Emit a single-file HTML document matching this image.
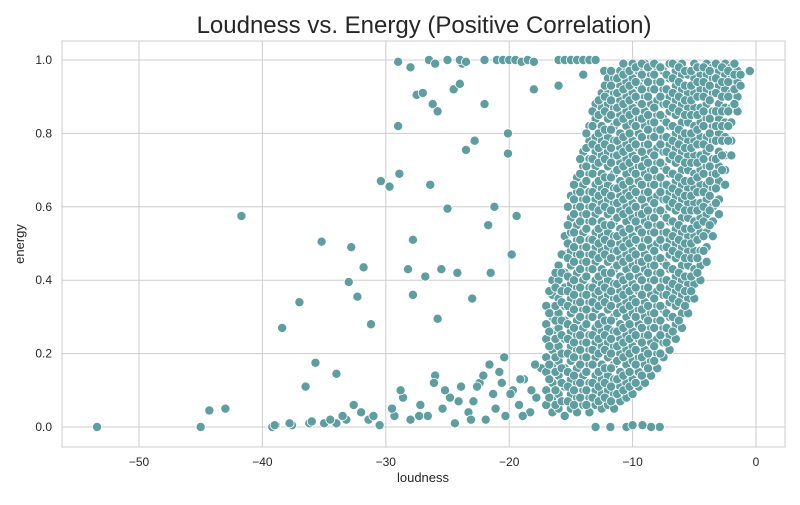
<!DOCTYPE html>
<html><head><meta charset="utf-8"><style>
body{margin:0;background:#fff;font-family:"Liberation Sans",sans-serif}
svg text{font-family:"Liberation Sans",sans-serif;fill:#262626}
</style></head><body>
<svg id="chart" width="800" height="500" viewBox="0 0 800 500">
<text x="424" y="33" font-size="24" text-anchor="middle">Loudness vs. Energy (Positive Correlation)</text>
<g id="grid"></g><g id="pts"></g>
<rect x="62" y="41" width="723" height="406" fill="none" stroke="#cccccc" stroke-width="1"/>
<text x="423" y="482" font-size="13" text-anchor="middle">loudness</text>
<text transform="translate(24,244) rotate(-90)" font-size="13" text-anchor="middle">energy</text>
</svg>
<script>
const xTicks=[-50,-40,-30,-20,-10,0];
const yTicks=[0,0.2,0.4,0.6,0.8,1.0];
const colX=[-17,-16.5,-16,-15.5,-15,-14.5,-14,-13.5,-13,-12.5,-12,-11.5,-11,-10.5,-10,-9.5,-9,-8.5,-8,-7.5,-7,-6.5,-6,-5.5,-5,-4.5,-4,-3.5,-3,-2.5,-2,-1.5,-0.5];
const colY=[
[.06,.1,.15,.19,.24,.28,.33],
[.04,.08,.12,.17,.21,.26,.3,.36,.4],
[.05,.09,.14,.18,.22,.27,.31,.35,.4,.44],
[.03,.07,.11,.16,.2,.24,.29,.33,.38,.42,.47,.52],
[.05,.09,.13,.18,.22,.26,.31,.35,.39,.44,.48,.53,.57,.63],
[.04,.08,.12,.16,.21,.25,.29,.34,.38,.42,.47,.51,.55,.6,.64,.68],
[.06,.1,.14,.19,.23,.27,.32,.36,.4,.45,.49,.53,.58,.62,.66,.71,.75],
[.04,.08,.12,.17,.21,.25,.3,.34,.38,.43,.47,.51,.56,.6,.64,.69,.73,.78,.82],
[.06,.1,.14,.19,.23,.27,.32,.36,.4,.45,.49,.53,.58,.62,.66,.71,.75,.79,.84,.88],
[.05,.09,.13,.17,.22,.26,.3,.35,.39,.43,.48,.52,.56,.61,.65,.69,.74,.78,.82,.87,.91],
[.06,.1,.14,.19,.23,.27,.32,.36,.4,.45,.49,.53,.58,.62,.66,.71,.75,.79,.84,.88,.92,.95],
[.05,.09,.13,.17,.22,.26,.3,.35,.39,.43,.48,.52,.56,.61,.65,.69,.74,.78,.82,.87,.91,.95],
[.07,.11,.15,.2,.24,.28,.33,.37,.41,.46,.5,.54,.59,.63,.67,.72,.76,.8,.85,.89,.93,.97],
[.08,.12,.17,.21,.25,.3,.34,.38,.43,.47,.51,.56,.6,.64,.69,.73,.77,.82,.86,.9,.94,.98],
[.09,.13,.18,.22,.26,.31,.35,.39,.44,.48,.52,.57,.61,.65,.7,.74,.78,.83,.87,.91,.95,.99],
[.11,.15,.19,.24,.28,.32,.37,.41,.45,.5,.54,.58,.63,.67,.71,.76,.8,.84,.89,.93,.97],
[.12,.17,.21,.25,.3,.34,.38,.43,.47,.51,.56,.6,.64,.69,.73,.77,.82,.86,.9,.95,.99],
[.14,.18,.23,.27,.31,.36,.4,.44,.49,.53,.57,.62,.66,.7,.75,.79,.83,.88,.92,.96],
[.16,.2,.24,.29,.33,.37,.42,.46,.5,.55,.59,.63,.68,.72,.76,.81,.85,.89,.94,.98],
[.19,.23,.27,.32,.36,.4,.45,.49,.53,.58,.62,.66,.71,.75,.79,.84,.88,.92,.97],
[.21,.25,.3,.34,.38,.43,.47,.51,.56,.6,.64,.69,.73,.77,.82,.86,.9,.95,.99],
[.24,.28,.33,.37,.41,.46,.5,.54,.59,.63,.67,.72,.76,.8,.85,.89,.93,.97],
[.27,.31,.36,.4,.44,.49,.53,.57,.62,.66,.7,.75,.79,.83,.88,.92,.96,.99],
[.31,.35,.39,.44,.48,.52,.57,.61,.65,.7,.74,.78,.83,.87,.91,.96],
[.35,.39,.43,.48,.52,.56,.61,.65,.69,.74,.78,.82,.87,.91,.95,.99],
[.4,.44,.48,.53,.57,.61,.66,.7,.74,.79,.83,.87,.92,.96],
[.45,.49,.53,.58,.62,.66,.71,.75,.79,.84,.88,.92,.96,.99],
[.52,.56,.6,.65,.69,.73,.78,.82,.86,.91,.95,.98],
[.58,.62,.67,.71,.75,.8,.84,.88,.93,.97],
[.66,.7,.74,.79,.83,.87,.92,.96,.99],
[.74,.78,.83,.87,.91,.95,.98],
[.86,.9,.94,.97],
[.97]];
const colX2=[-16.75,-16.25,-15.75,-15.25,-14.75,-14.25,-13.75,-13.25,-12.75,-12.25,-11.75,-11.25,-10.75,-10.25,-9.75,-9.25,-8.75,-8.25,-7.75,-7.25,-6.75,-6.25,-5.75,-5.25,-4.75,-4.25,-3.75,-3.25,-2.75,-2.25,-1.75,-1.25];
const colY2=[
[.08,.13,.17,.22,.26,.31,.37],
[.06,.1,.15,.19,.24,.29,.33,.38,.42],
[.07,.12,.16,.2,.25,.29,.34,.37,.42,.47],
[.07,.11,.15,.2,.24,.28,.33,.37,.41,.46,.5,.55,.6],
[.06,.1,.14,.19,.23,.27,.32,.36,.4,.45,.49,.53,.58,.62,.66],
[.08,.12,.17,.21,.25,.3,.34,.38,.43,.47,.51,.56,.6,.64,.69,.73],
[.06,.1,.15,.19,.23,.28,.32,.36,.41,.45,.49,.54,.58,.62,.67,.71,.76,.8],
[.08,.12,.17,.21,.25,.3,.34,.38,.43,.47,.51,.56,.6,.64,.69,.73,.77,.82,.86],
[.07,.11,.15,.2,.24,.28,.33,.37,.41,.46,.5,.54,.59,.63,.67,.72,.76,.8,.85,.89],
[.08,.12,.16,.21,.25,.29,.34,.38,.42,.47,.51,.55,.6,.64,.68,.73,.77,.81,.86,.9,.93],
[.07,.11,.16,.2,.24,.29,.33,.37,.42,.46,.5,.55,.59,.63,.68,.72,.76,.81,.85,.89,.93,.97],
[.09,.13,.18,.22,.26,.31,.35,.39,.44,.48,.52,.57,.61,.65,.7,.74,.78,.83,.87,.91,.95],
[.1,.14,.19,.23,.27,.32,.36,.4,.45,.49,.53,.58,.62,.66,.71,.75,.79,.84,.88,.92,.96,.99],
[.11,.15,.2,.24,.28,.33,.37,.41,.46,.5,.54,.59,.63,.67,.72,.76,.8,.85,.89,.93,.97],
[.12,.17,.21,.25,.3,.34,.38,.43,.47,.51,.56,.6,.64,.69,.73,.77,.82,.86,.9,.94,.98],
[.14,.19,.23,.27,.32,.36,.4,.45,.49,.53,.58,.62,.66,.71,.75,.79,.84,.88,.92,.96,.99],
[.16,.2,.25,.29,.33,.38,.42,.46,.51,.55,.59,.64,.68,.72,.77,.81,.85,.9,.94,.98],
[.18,.22,.27,.31,.35,.4,.44,.48,.53,.57,.61,.66,.7,.74,.79,.83,.87,.92,.96,.99],
[.2,.25,.29,.33,.38,.42,.46,.51,.55,.59,.64,.68,.72,.77,.81,.85,.9,.94,.98],
[.23,.27,.31,.36,.4,.44,.49,.53,.57,.62,.66,.7,.75,.79,.83,.88,.92,.96],
[.26,.3,.35,.39,.43,.48,.52,.56,.61,.65,.69,.74,.78,.82,.87,.91,.95,.99],
[.29,.34,.38,.42,.47,.51,.55,.6,.64,.68,.73,.77,.81,.86,.9,.94,.98],
[.33,.37,.41,.46,.5,.54,.59,.63,.67,.72,.76,.8,.85,.89,.93,.97],
[.37,.41,.46,.5,.54,.59,.63,.67,.72,.76,.8,.85,.89,.93,.97],
[.42,.46,.51,.55,.59,.64,.68,.72,.77,.81,.85,.9,.94,.98],
[.48,.52,.56,.6,.64,.69,.73,.77,.82,.86,.9,.94,.98],
[.55,.59,.63,.67,.71,.76,.8,.84,.89,.93,.97],
[.61,.65,.69,.73,.78,.82,.86,.91,.95,.99],
[.7,.74,.78,.82,.86,.9,.94,.98],
[.78,.82,.86,.9,.94,.97],
[.88,.92,.96,.99],
[.93,.96]];
const loneX=[-53.4,-45,-44.3,-43,-41.7,-39.2,-38.9,-38.4,-37.6,-37,-36.5,-36.2,-35.7,-35.2,-34,-34,-33.2,-33,-32.8,-32.6,-32.3,-31.8,-31.4,-31.2,-30.4,-29.7,-29.3,-29,-28.9,-28.6,-28.2,-27.8,-27.8,-27.5,-27,-26.8,-26.4,-26.2,-25.8,-25.8,-25.5,-25,-24.5,-24.2,-24,-23.8,-23.5,-23,-22.8,-22,-21.7,-21.5,-21.2,-20.1,-20.1,-19.8,-19.4,-18,-16,-14,-12.3,
-29,-28,-26.5,-26,-25,-24,-23.5,-22,-21,-20.5,-20,-19.5,-19,-18.5,-18,-16,-15.5,-15,-14.5,-14,-13.5,-13,
-39,-37.8,-36,-35,-34.5,-33.5,-32,-31,-30.5,-29.5,-28.8,-28,-27.2,-26.6,-26,-25.4,-24.8,-24.4,-23.9,-23.3,-22.9,-22.4,-21.9,-21.3,-20.8,-20.3,-19.7,-19.2,-18.8,-18.3,-17.8,-17.4,-25.2,-24.1,-23.1,-22.1,-21.1,-20.6,-19.9,-18.9,-17.9,-27.3,-26.1,-22.6,-21.6,-20.4,-19.1,-18.2,
-13,-11.8,-10.5,-10,-7.8,-8.5,-9.2];
const loneY=[0,0,.045,.05,.575,0,.005,.27,.005,.34,.11,.01,.175,.505,.145,.01,.02,.395,.49,.06,.355,.435,.02,.28,.67,.655,.03,.82,.69,.08,.43,.51,.36,.905,.91,.41,.66,.88,.86,.295,.43,.595,.92,.42,.935,.99,.755,.35,.78,.88,.55,.42,.6,.8,.745,.47,.575,.92,.93,.96,.97,
.995,.98,1,.99,1,1,.995,1,1,1,1,1,.995,1,.995,1,1,1,1,1,1,1,
.005,.01,.015,.01,.02,.03,.04,.03,.005,.05,.1,.02,.06,.03,.14,.05,.08,.01,.11,.04,.07,.12,.02,.09,.15,.03,.1,.06,.13,.04,.08,.16,.1,.07,.02,.14,.05,.12,.09,.03,.17,.03,.12,.11,.17,.19,.13,.1,
0,0,0,.005,0,0,.005];
const x=v=>756+v*12.34, y=v=>427-v*367;
const NS="http://www.w3.org/2000/svg",g=document.getElementById('grid'),P=document.getElementById('pts');
function mk(t,a,p){const e=document.createElementNS(NS,t);for(const k in a)e.setAttribute(k,a[k]);p.appendChild(e);return e;}
xTicks.forEach(t=>{const l=mk('line',{x1:x(t),x2:x(t),y1:41,y2:447,stroke:'#cccccc'},g);


const s=mk('text',{x:x(t),y:466,'font-size':12,'text-anchor':'middle'},g);s.textContent=t<0?'\u2212'+(-t):t;

});
yTicks.forEach(t=>{const l=mk('line',{x1:62,x2:785,y1:y(t),y2:y(t),stroke:'#cccccc'},g);


const s=mk('text',{x:52,y:y(t)+4,'font-size':12,'text-anchor':'end'},g);s.textContent=t.toFixed(1);

});
function dot(a,b){const c=mk('circle',{cx:x(a),cy:y(b),r:4.6,fill:'#5f9ea0',stroke:'#ffffff','stroke-width':0.8},P);

}
loneX.forEach((v,i)=>dot(v,loneY[i]));
colX.forEach((cx,i)=>colY[i].forEach(v=>dot(cx,v)));
colX2.forEach((cx,i)=>colY2[i].forEach(v=>dot(cx,v)));
</script>
</body></html>
